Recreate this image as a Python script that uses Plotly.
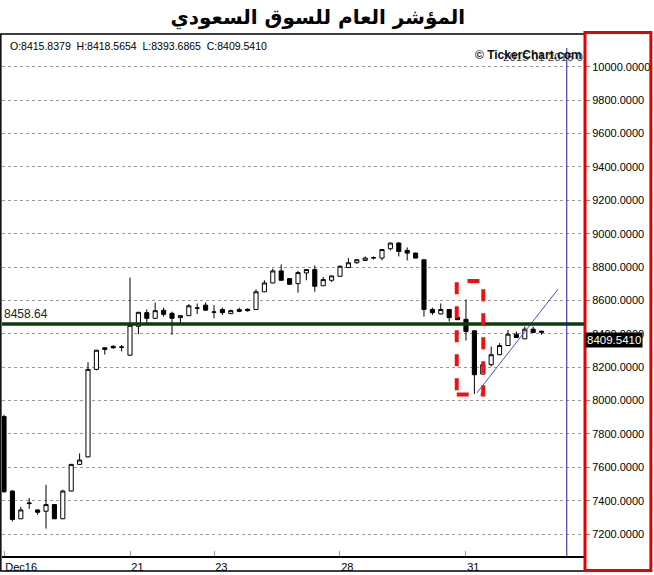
import plotly.graph_objects as go

# ---- data ----
days = ["2015-12-16", "2015-12-17", "2015-12-20", "2015-12-21", "2015-12-22",
        "2015-12-23", "2015-12-24", "2015-12-27", "2015-12-28", "2015-12-29",
        "2015-12-30", "2015-12-31", "2016-01-03"]
hours = ["10:00", "11:00", "12:00", "13:00", "14:00"]

opens = [7904, 7458, 7292, 7383, 7345, 7337, 7377, 7292, 7458, 7618,
         7663, 8187, 8306, 8325, 8321, 8272, 8445, 8527, 8493, 8541,
         8523, 8497, 8509, 8553, 8572, 8531, 8546, 8521, 8545, 8547,
         8546, 8652, 8705, 8777, 8731, 8701, 8765, 8785, 8688, 8721,
         8745, 8797, 8826, 8840, 8855, 8854, 8910, 8944, 8900, 8884,
         8844, 8546, 8519, 8546, 8500, 8487, 8418, 8159, 8215, 8275,
         8330, 8398, 8370, 8428, 8415.8379]
highs = [7915, 7462, 7363, 7416, 7347, 7495, 7379, 7466, 7620, 7683,
         8230, 8304, 8319, 8332, 8333, 8737, 8531, 8547, 8588, 8557,
         8533, 8511, 8578, 8582, 8588, 8572, 8557, 8545, 8557, 8553,
         8666, 8721, 8791, 8816, 8733, 8777, 8787, 8810, 8741, 8749,
         8810, 8854, 8846, 8864, 8864, 8907, 8946, 8950, 8918, 8886,
         8846, 8557, 8582, 8548, 8502, 8606, 8420, 8217, 8324, 8344,
         8424, 8414, 8444, 8444, 8418.5654]
lows = [7448, 7276, 7290, 7351, 7316, 7233, 7290, 7290, 7456, 7616,
        7660, 8181, 8276, 8310, 8295, 8270, 8398, 8463, 8489, 8503,
        8394, 8463, 8507, 8519, 8540, 8493, 8513, 8519, 8530, 8533,
        8544, 8650, 8703, 8719, 8695, 8646, 8721, 8652, 8686, 8711,
        8743, 8795, 8820, 8838, 8846, 8840, 8900, 8864, 8840, 8852,
        8503, 8513, 8517, 8474, 8483, 8360, 8040, 8157, 8205, 8273,
        8328, 8376, 8368, 8406, 8393.6865]
closes = [7454, 7288, 7345, 7386, 7331, 7377, 7292, 7458, 7618, 7644,
          8187, 8302, 8317, 8317, 8320, 8451, 8529, 8493, 8539, 8517,
          8493, 8509, 8568, 8555, 8542, 8530, 8527, 8539, 8535, 8539,
          8652, 8705, 8777, 8721, 8697, 8767, 8785, 8685, 8725, 8747,
          8805, 8826, 8844, 8854, 8856, 8905, 8944, 8894, 8884, 8854,
          8546, 8527, 8546, 8497, 8485, 8414, 8155, 8215, 8275, 8330,
          8398, 8378, 8428, 8408, 8409.5410]

times = [d + " " + h for d in days for h in hours]
idx = list(range(len(closes)))

tick_days = ["2015-12-16", "2015-12-21", "2015-12-23", "2015-12-28", "2015-12-31"]
tick_text = ["Dec16", "21", "23", "28", "31"]
tick_vals = [times.index(d + " 10:00") for d in tick_days]

y_ticks = list(range(7200, 10001, 200))
support_level = 8458.64
title_text = "المؤشر العام للسوق السعودي"

# annotation geometry in data units
trend_x = [56.3, 65.95]
trend_y = [8046, 8667]
box_x = [53.9, 57.06]
box_y = [8036, 8717]
vline_x = 67.0

fig = go.Figure()
fig.add_trace(go.Candlestick(
    x=idx, open=opens, high=highs, low=lows, close=closes,
    increasing=dict(line=dict(color="black", width=1), fillcolor="white"),
    decreasing=dict(line=dict(color="black", width=1), fillcolor="black"),
    whiskerwidth=0, showlegend=False, hoverinfo="skip"))

fig.add_trace(go.Scatter(x=trend_x, y=trend_y, mode="lines",
                         line=dict(color="#4a4ae6", width=1),
                         showlegend=False, hoverinfo="skip"))

shapes = [
    dict(type="line", xref="paper", x0=0, x1=1, yref="y",
         y0=support_level, y1=support_level,
         line=dict(color="#0d3b0d", width=3.5)),
    dict(type="rect", xref="x", yref="y", x0=box_x[0], x1=box_x[1],
         y0=box_y[0], y1=box_y[1],
         line=dict(color="#ee1111", width=4, dash="dash")),
    dict(type="line", xref="x", yref="paper", x0=vline_x, x1=vline_x,
         y0=0, y1=0.975, line=dict(color="#1a1aa0", width=1)),
    dict(type="rect", xref="paper", yref="paper", x0=-0.002, x1=1.0,
         y0=-0.029, y1=1.002, line=dict(color="black", width=1.5)),
    dict(type="rect", xref="paper", yref="paper", x0=1.0, x1=1.113,
         y0=-0.028, y1=1.005, line=dict(color="#e60000", width=3)),
]

annotations = [
    dict(xref="paper", yref="paper", x=0.01, y=0.995,
         xanchor="left", yanchor="top", showarrow=False,
         text="O:%.4f  H:%.4f  L:%.4f  C:%.4f" % (opens[-1], highs[-1], lows[-1], closes[-1]),
         font=dict(family="Liberation Sans", size=10.5, color="black")),
    dict(xref="paper", yref="paper", x=1.0, y=0.958,
         xanchor="right", yanchor="middle", showarrow=False,
         text="2015 01 2015 0",
         font=dict(family="Liberation Sans", size=11.5, color="#444444")),
    dict(xref="paper", yref="paper", x=0.998, y=0.961,
         xanchor="right", yanchor="middle", showarrow=False,
         text="<b>© TickerChart.com</b>",
         font=dict(family="Liberation Sans", size=12, color="#111111")),
    dict(xref="paper", yref="y", x=0.0, y=support_level,
         xanchor="left", yanchor="bottom", showarrow=False,
         text="8458.64", yshift=1,
         font=dict(family="Liberation Sans", size=12, color="#222222")),
    dict(xref="paper", yref="y", x=1.0, y=closes[-1],
         xanchor="left", yanchor="middle", showarrow=False,
         text="%.4f" % closes[-1], bgcolor="black", yshift=-8,
         borderpad=1,
         font=dict(family="Liberation Sans", size=11.5, color="white")),
]

fig.update_layout(
    width=654, height=575,
    margin=dict(l=2, r=69, t=35, b=16),
    paper_bgcolor="white", plot_bgcolor="white",
    title=dict(text="<b>" + title_text + "</b>", x=0.486, xanchor="center",
               y=0.97, yanchor="middle",
               font=dict(family="DejaVu Sans", size=20, color="black")),
    shapes=shapes, annotations=annotations,
    showlegend=False,
    xaxis=dict(range=[-0.24, 69.17], rangeslider=dict(visible=False),
               tickmode="array", tickvals=tick_vals, ticktext=tick_text,
               ticks="inside", ticklen=5, tickcolor="#999999",
               ticklabelposition="outside right",
               showgrid=False, zeroline=False, showline=True,
               linecolor="black", linewidth=1.5,
               tickfont=dict(family="Liberation Sans", size=11, color="black")),
    yaxis=dict(range=[7068.9, 10190.6], side="right",
               tickmode="array", tickvals=y_ticks,
               ticktext=["%.4f" % v for v in y_ticks],
               ticks="outside", ticklen=4, tickcolor="#cc6666",
               showgrid=True, gridcolor="#999999", griddash="dot", gridwidth=1,
               zeroline=False, showline=False,
               tickfont=dict(family="Liberation Sans", size=11, color="black")),
)

fig.write_html("out.html", config={"displayModeBar": False},
               post_script="document.body.style.margin='0';")
